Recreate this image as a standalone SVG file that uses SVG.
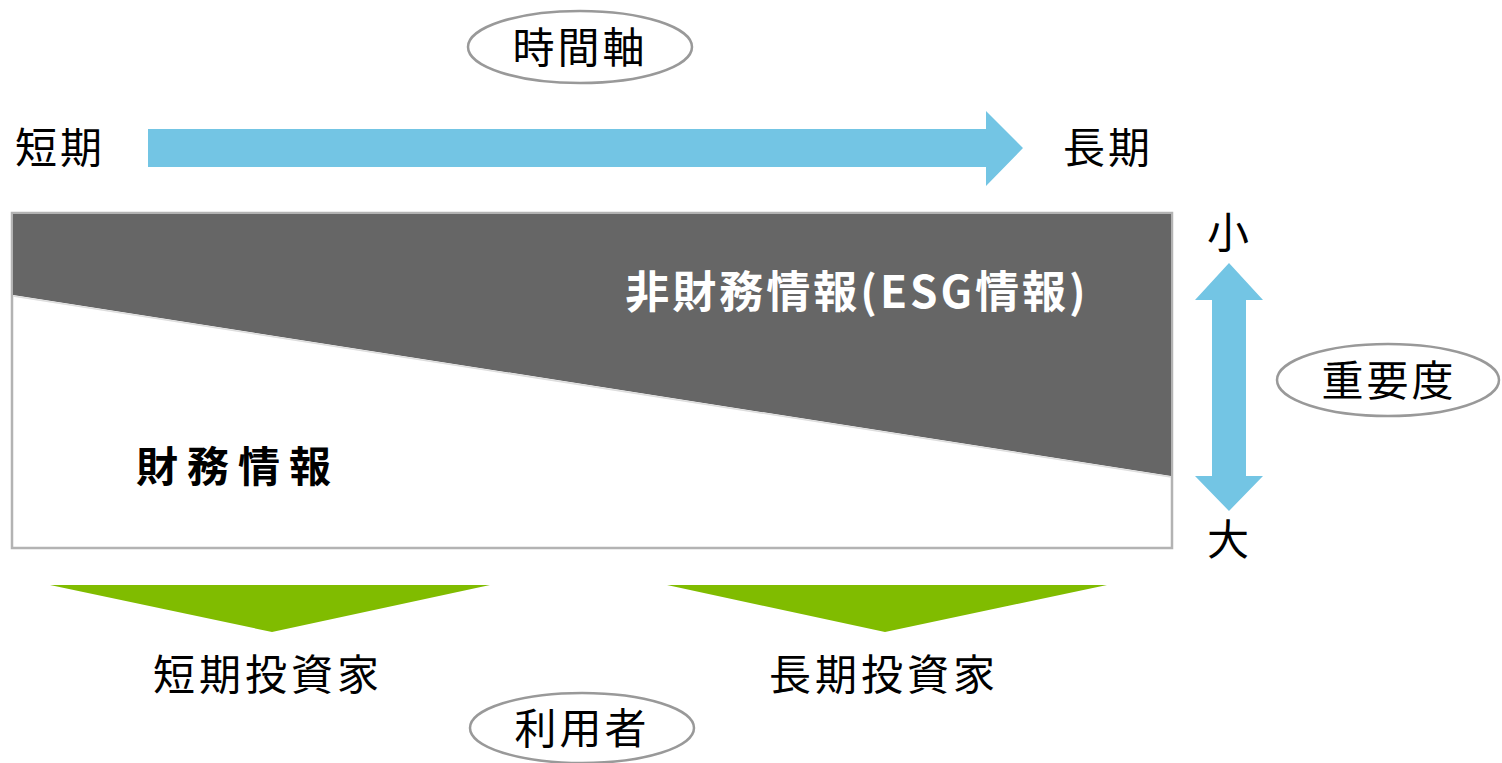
<svg xmlns="http://www.w3.org/2000/svg" width="1502" height="763" viewBox="0 0 1502 763">
<style>
  .t { font-family: "Noto Sans CJK JP", "Liberation Sans", sans-serif; font-size: 42px; fill: #000; text-anchor: middle; }
  .b { font-weight: bold; }
  .oval { fill: #fff; stroke: #999; stroke-width: 2.5; }
  .blue { fill: #73c5e4; }
  .green { fill: #80bc00; }
</style>
<rect x="0" y="0" width="1502" height="763" fill="#fff"/>

<g id="timeAxisLabel">
  <ellipse class="oval" cx="580" cy="47" rx="112" ry="36"/>
  <text class="t" x="580" y="63" letter-spacing="3">時間軸</text>
</g>

<g id="shortTerm"><text class="t" x="60" y="163" letter-spacing="3">短期</text></g>
<g id="longTerm"><text class="t" x="1108" y="163" letter-spacing="3">長期</text></g>

<g id="connectors">
  <polygon id="timeArrow" class="blue" points="148,129 986,129 986,111 1023,148 986,186 986,167 148,167"/>
  <polygon id="importanceArrow" class="blue" points="1229,263 1263,300 1246,300 1246,476 1263,476 1229,511 1195,476 1212,476 1212,300 1195,300"/>
  <polygon class="green" points="50,585 490,585 272,632"/>
  <polygon class="green" points="667,585 1107,585 885,632"/>
</g>

<g id="infoBox">
  <rect x="12" y="213" width="1160" height="335" fill="#fff" stroke="#b3b3b3" stroke-width="2.5"/>
  <polygon points="13,214 1171,214 1171,476 13,295" fill="#666"/>
  <line x1="13" y1="296" x2="1171" y2="477" stroke="#ddd" stroke-width="1.5"/>
</g>

<g id="nonFinancial"><text class="t b" x="857" y="308" style="fill:#fff;font-size:44px" letter-spacing="3">非財務情報(ESG情報)</text></g>
<g id="financial"><text class="t b" x="238" y="482" letter-spacing="9">財務情報</text></g>

<g id="small"><text class="t" x="1228" y="248">小</text></g>
<g id="large"><text class="t" x="1228" y="555">大</text></g>

<g id="importanceLabel">
  <ellipse class="oval" cx="1388" cy="380" rx="111" ry="36"/>
  <text class="t" x="1389" y="396" letter-spacing="3">重要度</text>
</g>

<g id="shortInvestor"><text class="t" x="268" y="690" letter-spacing="4">短期投資家</text></g>
<g id="longInvestor"><text class="t" x="884" y="690" letter-spacing="4">長期投資家</text></g>

<g id="userLabel">
  <ellipse class="oval" cx="582" cy="728" rx="112" ry="35"/>
  <text class="t" x="582" y="744" letter-spacing="3">利用者</text>
</g>
</svg>
